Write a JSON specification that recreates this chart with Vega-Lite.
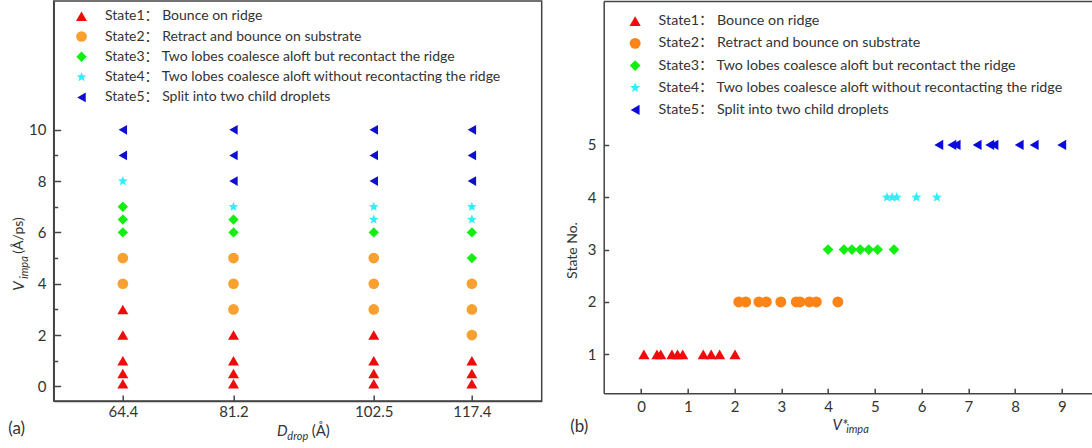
{
  "$schema": "https://vega.github.io/schema/vega-lite/v6.json",
  "background": "white",
  "autosize": {"type": "pad"},
  "padding": {"left": 6.7, "top": 0, "right": 0, "bottom": 0},
  "spacing": 22,
  "config": {
    "font": "Lato",
    "axis": {"grid": false, "domainColor": "#444", "domainWidth": 1.5, "tickColor": "#444", "tickWidth": 1.5, "labelColor": "#333", "labelFont": "Lato", "labelFontSize": 15, "titleFont": "Lato", "titleColor": "#333", "titleFontWeight": "normal", "labelFlush": false, "labelOverlap": false, "titleAlign": "center", "titleBaseline": "middle"},
    "view": {"stroke": "#444", "strokeWidth": 1.5},
    "legend": {"orient": "none", "padding": 0, "labelFont": "Lato, 'Noto Sans CJK SC'", "labelFontSize": 14, "labelColor": "#333", "labelLimit": 700, "symbolSize": 100, "symbolStrokeWidth": 0}
  },
  "datasets": {
    "a": [
      {"D": 64.4, "V": 0.1, "label": "State1： Bounce on ridge"},
      {"D": 64.4, "V": 0.5, "label": "State1： Bounce on ridge"},
      {"D": 64.4, "V": 1, "label": "State1： Bounce on ridge"},
      {"D": 64.4, "V": 2, "label": "State1： Bounce on ridge"},
      {"D": 64.4, "V": 3, "label": "State1： Bounce on ridge"},
      {"D": 64.4, "V": 4, "label": "State2： Retract and bounce on substrate"},
      {"D": 64.4, "V": 5, "label": "State2： Retract and bounce on substrate"},
      {"D": 64.4, "V": 6, "label": "State3： Two lobes coalesce aloft but recontact the ridge"},
      {"D": 64.4, "V": 6.5, "label": "State3： Two lobes coalesce aloft but recontact the ridge"},
      {"D": 64.4, "V": 7, "label": "State3： Two lobes coalesce aloft but recontact the ridge"},
      {"D": 64.4, "V": 8, "label": "State4： Two lobes coalesce aloft without recontacting the ridge"},
      {"D": 64.4, "V": 9, "label": "State5： Split into two child droplets"},
      {"D": 64.4, "V": 10, "label": "State5： Split into two child droplets"},
      {"D": 81.2, "V": 0.1, "label": "State1： Bounce on ridge"},
      {"D": 81.2, "V": 0.5, "label": "State1： Bounce on ridge"},
      {"D": 81.2, "V": 1, "label": "State1： Bounce on ridge"},
      {"D": 81.2, "V": 2, "label": "State1： Bounce on ridge"},
      {"D": 81.2, "V": 3, "label": "State2： Retract and bounce on substrate"},
      {"D": 81.2, "V": 4, "label": "State2： Retract and bounce on substrate"},
      {"D": 81.2, "V": 5, "label": "State2： Retract and bounce on substrate"},
      {"D": 81.2, "V": 6, "label": "State3： Two lobes coalesce aloft but recontact the ridge"},
      {"D": 81.2, "V": 6.5, "label": "State3： Two lobes coalesce aloft but recontact the ridge"},
      {"D": 81.2, "V": 7, "label": "State4： Two lobes coalesce aloft without recontacting the ridge"},
      {"D": 81.2, "V": 8, "label": "State5： Split into two child droplets"},
      {"D": 81.2, "V": 9, "label": "State5： Split into two child droplets"},
      {"D": 81.2, "V": 10, "label": "State5： Split into two child droplets"},
      {"D": 102.5, "V": 0.1, "label": "State1： Bounce on ridge"},
      {"D": 102.5, "V": 0.5, "label": "State1： Bounce on ridge"},
      {"D": 102.5, "V": 1, "label": "State1： Bounce on ridge"},
      {"D": 102.5, "V": 2, "label": "State1： Bounce on ridge"},
      {"D": 102.5, "V": 3, "label": "State2： Retract and bounce on substrate"},
      {"D": 102.5, "V": 4, "label": "State2： Retract and bounce on substrate"},
      {"D": 102.5, "V": 5, "label": "State2： Retract and bounce on substrate"},
      {"D": 102.5, "V": 6, "label": "State3： Two lobes coalesce aloft but recontact the ridge"},
      {"D": 102.5, "V": 6.5, "label": "State4： Two lobes coalesce aloft without recontacting the ridge"},
      {"D": 102.5, "V": 7, "label": "State4： Two lobes coalesce aloft without recontacting the ridge"},
      {"D": 102.5, "V": 8, "label": "State5： Split into two child droplets"},
      {"D": 102.5, "V": 9, "label": "State5： Split into two child droplets"},
      {"D": 102.5, "V": 10, "label": "State5： Split into two child droplets"},
      {"D": 117.4, "V": 0.1, "label": "State1： Bounce on ridge"},
      {"D": 117.4, "V": 0.5, "label": "State1： Bounce on ridge"},
      {"D": 117.4, "V": 1, "label": "State1： Bounce on ridge"},
      {"D": 117.4, "V": 2, "label": "State2： Retract and bounce on substrate"},
      {"D": 117.4, "V": 3, "label": "State2： Retract and bounce on substrate"},
      {"D": 117.4, "V": 4, "label": "State2： Retract and bounce on substrate"},
      {"D": 117.4, "V": 5, "label": "State3： Two lobes coalesce aloft but recontact the ridge"},
      {"D": 117.4, "V": 6, "label": "State3： Two lobes coalesce aloft but recontact the ridge"},
      {"D": 117.4, "V": 6.5, "label": "State4： Two lobes coalesce aloft without recontacting the ridge"},
      {"D": 117.4, "V": 7, "label": "State4： Two lobes coalesce aloft without recontacting the ridge"},
      {"D": 117.4, "V": 8, "label": "State5： Split into two child droplets"},
      {"D": 117.4, "V": 9, "label": "State5： Split into two child droplets"},
      {"D": 117.4, "V": 10, "label": "State5： Split into two child droplets"}
    ],
    "b": [
      {"Vs": 0.06, "S": 1, "label": "State1： Bounce on ridge"},
      {"Vs": 0.34, "S": 1, "label": "State1： Bounce on ridge"},
      {"Vs": 0.42, "S": 1, "label": "State1： Bounce on ridge"},
      {"Vs": 0.66, "S": 1, "label": "State1： Bounce on ridge"},
      {"Vs": 0.78, "S": 1, "label": "State1： Bounce on ridge"},
      {"Vs": 0.89, "S": 1, "label": "State1： Bounce on ridge"},
      {"Vs": 1.33, "S": 1, "label": "State1： Bounce on ridge"},
      {"Vs": 1.5, "S": 1, "label": "State1： Bounce on ridge"},
      {"Vs": 1.68, "S": 1, "label": "State1： Bounce on ridge"},
      {"Vs": 2.01, "S": 1, "label": "State1： Bounce on ridge"},
      {"Vs": 2.09, "S": 2, "label": "State2： Retract and bounce on substrate"},
      {"Vs": 2.24, "S": 2, "label": "State2： Retract and bounce on substrate"},
      {"Vs": 2.52, "S": 2, "label": "State2： Retract and bounce on substrate"},
      {"Vs": 2.68, "S": 2, "label": "State2： Retract and bounce on substrate"},
      {"Vs": 2.99, "S": 2, "label": "State2： Retract and bounce on substrate"},
      {"Vs": 3.32, "S": 2, "label": "State2： Retract and bounce on substrate"},
      {"Vs": 3.4, "S": 2, "label": "State2： Retract and bounce on substrate"},
      {"Vs": 3.6, "S": 2, "label": "State2： Retract and bounce on substrate"},
      {"Vs": 3.75, "S": 2, "label": "State2： Retract and bounce on substrate"},
      {"Vs": 4.21, "S": 2, "label": "State2： Retract and bounce on substrate"},
      {"Vs": 4.0, "S": 3, "label": "State3： Two lobes coalesce aloft but recontact the ridge"},
      {"Vs": 4.34, "S": 3, "label": "State3： Two lobes coalesce aloft but recontact the ridge"},
      {"Vs": 4.51, "S": 3, "label": "State3： Two lobes coalesce aloft but recontact the ridge"},
      {"Vs": 4.69, "S": 3, "label": "State3： Two lobes coalesce aloft but recontact the ridge"},
      {"Vs": 4.87, "S": 3, "label": "State3： Two lobes coalesce aloft but recontact the ridge"},
      {"Vs": 5.06, "S": 3, "label": "State3： Two lobes coalesce aloft but recontact the ridge"},
      {"Vs": 5.41, "S": 3, "label": "State3： Two lobes coalesce aloft but recontact the ridge"},
      {"Vs": 5.26, "S": 4, "label": "State4： Two lobes coalesce aloft without recontacting the ridge"},
      {"Vs": 5.37, "S": 4, "label": "State4： Two lobes coalesce aloft without recontacting the ridge"},
      {"Vs": 5.47, "S": 4, "label": "State4： Two lobes coalesce aloft without recontacting the ridge"},
      {"Vs": 5.89, "S": 4, "label": "State4： Two lobes coalesce aloft without recontacting the ridge"},
      {"Vs": 6.33, "S": 4, "label": "State4： Two lobes coalesce aloft without recontacting the ridge"},
      {"Vs": 6.37, "S": 5, "label": "State5： Split into two child droplets"},
      {"Vs": 6.65, "S": 5, "label": "State5： Split into two child droplets"},
      {"Vs": 6.74, "S": 5, "label": "State5： Split into two child droplets"},
      {"Vs": 7.19, "S": 5, "label": "State5： Split into two child droplets"},
      {"Vs": 7.46, "S": 5, "label": "State5： Split into two child droplets"},
      {"Vs": 7.55, "S": 5, "label": "State5： Split into two child droplets"},
      {"Vs": 8.09, "S": 5, "label": "State5： Split into two child droplets"},
      {"Vs": 8.41, "S": 5, "label": "State5： Split into two child droplets"},
      {"Vs": 9.0, "S": 5, "label": "State5： Split into two child droplets"}
    ]
  },
  "resolve": {"scale": {"color": "independent", "shape": "independent", "size": "independent"}},
  "hconcat": [
    {
      "width": 488,
      "height": 400,
      "data": {"name": "a"},
      "resolve": {"axis": {"x": "independent", "y": "independent"}},
      "layer": [
        {
          "mark": {"type": "point", "filled": true, "opacity": 1},
          "encoding": {
            "x": {"field": "D", "type": "quantitative", "scale": {"domain": [53.9, 128.0], "nice": false, "zero": false},
              "axis": {"orient": "bottom", "values": [64.4, 81.2, 102.5, 117.4], "format": ".1f", "tickSize": -6, "labelPadding": 9.3, "title": "D", "titleFontSize": 15, "titleFontStyle": "italic", "titleX": 228.1, "titleY": 29.3}},
            "y": {"field": "V", "type": "quantitative", "scale": {"domain": [-0.57, 15.02], "nice": false, "zero": false},
              "axis": {"orient": "left", "values": [0, 2, 4, 6, 8, 10], "tickSize": -7, "labelPadding": 14.7, "title": "V", "titleFontSize": 15, "titleFontStyle": "italic", "titleAngle": 270, "titleX": -34.7, "titleY": 284.5}},
            "color": {"field": "label", "type": "nominal",
              "scale": {"domain": ["State1： Bounce on ridge", "State2： Retract and bounce on substrate", "State3： Two lobes coalesce aloft but recontact the ridge", "State4： Two lobes coalesce aloft without recontacting the ridge", "State5： Split into two child droplets"],
                "range": ["#F00A0A", "#F8A030", "#12EE12", "#30EEFF", "#1010CC"]},
              "legend": {"title": null, "legendX": 20.8, "legendY": 8.2, "labelOffset": 16.5, "rowPadding": 6.3}},
            "shape": {"field": "label", "type": "nominal",
              "scale": {"domain": ["State1： Bounce on ridge", "State2： Retract and bounce on substrate", "State3： Two lobes coalesce aloft but recontact the ridge", "State4： Two lobes coalesce aloft without recontacting the ridge", "State5： Split into two child droplets"],
                "range": ["triangle-up", "circle", "diamond", "M0,-1L0.26,-0.36L0.95,-0.31L0.42,0.14L0.59,0.81L0,0.45L-0.59,0.81L-0.42,0.14L-0.95,-0.31L-0.26,-0.36Z", "triangle-left"]}},
            "size": {"field": "label", "type": "ordinal", "legend": null,
              "scale": {"domain": ["State1： Bounce on ridge", "State2： Retract and bounce on substrate", "State3： Two lobes coalesce aloft but recontact the ridge", "State4： Two lobes coalesce aloft without recontacting the ridge", "State5： Split into two child droplets"],
                "range": [120, 95, 125, 110, 110]}}
          }
        },
        {
          "mark": {"type": "point", "opacity": 0},
          "encoding": {
            "x": {"field": "D", "type": "quantitative", "axis": {"orient": "bottom", "domain": false, "ticks": false, "labels": false, "title": "drop", "titleFontSize": 11, "titleFontStyle": "italic", "titleX": 243.6, "titleY": 35.3}},
            "y": {"field": "V", "type": "quantitative", "axis": {"orient": "left", "values": [1, 3, 5, 7, 9], "domain": false, "ticks": true, "tickSize": -4, "labels": false, "title": "impa", "titleFontSize": 11, "titleFontStyle": "italic", "titleAngle": 270, "titleX": -29.2, "titleY": 266}}
          }
        },
        {
          "mark": {"type": "point", "opacity": 0},
          "encoding": {
            "x": {"field": "D", "type": "quantitative", "axis": {"orient": "bottom", "domain": false, "ticks": false, "labels": false, "title": "(Å)", "titleFontSize": 15, "titleX": 266.6, "titleY": 29.3}},
            "y": {"field": "V", "type": "quantitative", "axis": {"orient": "left", "domain": false, "ticks": false, "labels": false, "title": "(Å/ps)", "titleFontSize": 14, "titleAngle": 270, "titleX": -34.7, "titleY": 234}}
          }
        },
        {
          "mark": {"type": "point", "opacity": 0},
          "encoding": {
            "x": {"field": "D", "type": "quantitative", "axis": {"orient": "bottom", "domain": false, "ticks": false, "labels": false, "title": "(a)", "titleFontSize": 17, "titleAlign": "left", "titleX": -46, "titleY": 27.6}},
            "y": {"field": "V", "type": "quantitative", "axis": null}
          }
        }
      ]
    },
    {
      "width": 490.3,
      "height": 392.3,
      "data": {"name": "b"},
      "view": {"stroke": null},
      "resolve": {"axis": {"x": "independent", "y": "independent"}},
      "layer": [
        {
          "mark": {"type": "point", "filled": true, "opacity": 1},
          "encoding": {
            "x": {"field": "Vs", "type": "quantitative", "scale": {"domain": [-0.8, 9.69], "nice": false, "zero": false},
              "axis": {"orient": "bottom", "values": [0, 1, 2, 3, 4, 5, 6, 7, 8, 9], "tickSize": -5, "labelPadding": 11, "title": "V*", "titleFontSize": 15, "titleFontStyle": "italic", "titleX": 236.1, "titleY": 31}},
            "y": {"field": "S", "type": "quantitative", "scale": {"domain": [0.255, 7.75], "nice": false, "zero": false},
              "axis": {"orient": "left", "values": [1, 2, 3, 4, 5], "tickSize": -5, "labelPadding": 12.7, "title": "State  No.", "titleFontSize": 14, "titleAngle": 270, "titleX": -31.2, "titleY": 249}},
            "color": {"field": "label", "type": "nominal",
              "scale": {"domain": ["State1： Bounce on ridge", "State2： Retract and bounce on substrate", "State3： Two lobes coalesce aloft but recontact the ridge", "State4： Two lobes coalesce aloft without recontacting the ridge", "State5： Split into two child droplets"],
                "range": ["#F00A0A", "#FF8418", "#12EE12", "#30EEFF", "#0A0ADD"]},
              "legend": {"title": null, "legendX": 24.3, "legendY": 13, "labelOffset": 16.3, "labelFontSize": 14.3, "rowPadding": 7.2}},
            "shape": {"field": "label", "type": "nominal",
              "scale": {"domain": ["State1： Bounce on ridge", "State2： Retract and bounce on substrate", "State3： Two lobes coalesce aloft but recontact the ridge", "State4： Two lobes coalesce aloft without recontacting the ridge", "State5： Split into two child droplets"],
                "range": ["triangle-up", "circle", "diamond", "M0,-1L0.26,-0.36L0.95,-0.31L0.42,0.14L0.59,0.81L0,0.45L-0.59,0.81L-0.42,0.14L-0.95,-0.31L-0.26,-0.36Z", "triangle-left"]}},
            "size": {"field": "label", "type": "ordinal", "legend": null,
              "scale": {"domain": ["State1： Bounce on ridge", "State2： Retract and bounce on substrate", "State3： Two lobes coalesce aloft but recontact the ridge", "State4： Two lobes coalesce aloft without recontacting the ridge", "State5： Split into two child droplets"],
                "range": [125, 105, 125, 110, 115]}}
          }
        },
        {
          "mark": {"type": "point", "opacity": 0},
          "encoding": {
            "x": {"field": "Vs", "type": "quantitative", "axis": {"orient": "bottom", "domain": false, "ticks": false, "labels": false, "title": "impa", "titleFontSize": 11, "titleFontStyle": "italic", "titleX": 253.3, "titleY": 36.7}},
            "y": {"field": "S", "type": "quantitative", "axis": null}
          }
        },
        {
          "mark": {"type": "point", "opacity": 0},
          "encoding": {
            "x": {"field": "Vs", "type": "quantitative", "axis": {"orient": "bottom", "domain": false, "ticks": false, "labels": false, "title": "(b)", "titleFontSize": 17, "titleAlign": "left", "titleX": -34, "titleY": 33.4}},
            "y": {"field": "S", "type": "quantitative", "axis": null}
          }
        },
        {
          "mark": {"type": "point", "opacity": 0},
          "encoding": {
            "x": {"field": "Vs", "type": "quantitative", "axis": {"orient": "top", "domain": true, "ticks": false, "labels": false, "title": null}},
            "y": {"field": "S", "type": "quantitative", "axis": null}
          }
        }
      ]
    }
  ]
}
